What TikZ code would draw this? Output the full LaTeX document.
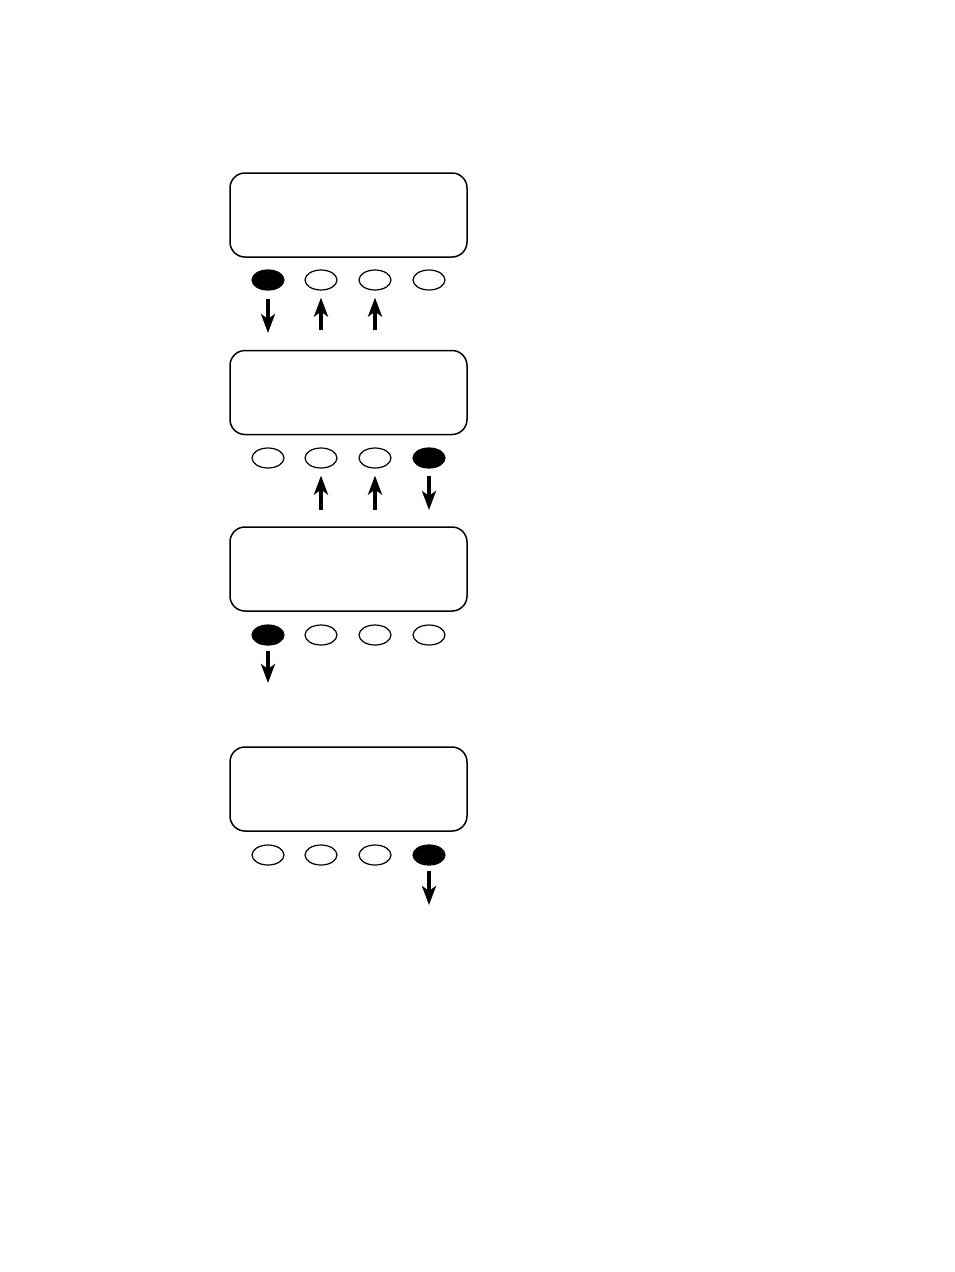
\documentclass[tikz,border=0pt]{standalone}
\usetikzlibrary{arrows.meta,shapes.geometric}
\begin{document}
\begin{tikzpicture}[x=1pt,y=-1pt,
  screen/.style={draw,line width=1.5pt,rounded corners=15pt,minimum width=237pt,minimum height=84pt,inner sep=0pt},
  btn/.style={draw,ellipse,line width=1.2pt,minimum width=32pt,minimum height=20pt,inner sep=0pt},
  btnon/.style={btn,fill=black},
  arr/.style={line width=4pt,-{Stealth[length=19pt,width=14pt,inset=5pt]}},
  arrthin/.style={line width=3.5pt,-{Stealth[length=19pt,width=14pt,inset=5pt]}}
]
\useasboundingbox[fill=white] (0,0) rectangle (954,1272);
% screens
\node[screen] (s1) at (348.5,215) {};
\node[screen] (s2) at (348.5,392.5) {};
\node[screen] (s3) at (348.5,569) {};
\node[screen] (s4) at (348.5,789) {};
% buttons row 1
\node[btnon] (b11) at (268,280) {};
\node[btn] (b12) at (321,280) {};
\node[btn] (b13) at (375,280) {};
\node[btn] (b14) at (429,280) {};
% row 2
\node[btn] (b21) at (268,458) {};
\node[btn] (b22) at (321,458) {};
\node[btn] (b23) at (375,458) {};
\node[btnon] (b24) at (429,458) {};
% row 3
\node[btnon] (b31) at (268,635) {};
\node[btn] (b32) at (321,635) {};
\node[btn] (b33) at (375,635) {};
\node[btn] (b34) at (429,635) {};
% row 4
\node[btn] (b41) at (268,855) {};
\node[btn] (b42) at (321,855) {};
\node[btn] (b43) at (375,855) {};
\node[btnon] (b44) at (429,855) {};
% coordinates
\coordinate (d11) at (268,333);
\coordinate (u12) at (321,330);
\coordinate (u13) at (375,330);
\coordinate (u22) at (321,510);
\coordinate (u23) at (375,510);
\coordinate (d24) at (429,510);
\coordinate (d31) at (268,683);
\coordinate (d44) at (429,905);
% arrows
\draw[arr,shorten <=8pt] (b11) -- (d11);
\draw[arr,shorten >=7pt] (u12) -- (b12);
\draw[arr,shorten >=7pt] (u13) -- (b13);
\draw[arr,shorten >=7pt] (u22) -- (b22);
\draw[arr,shorten >=7pt] (u23) -- (b23);
\draw[arr,shorten <=7pt] (b24) -- (d24);
\draw[arrthin,shorten <=5pt] (b31) -- (d31);
\draw[arrthin,shorten <=5pt] (b44) -- (d44);
\end{tikzpicture}
\end{document}
